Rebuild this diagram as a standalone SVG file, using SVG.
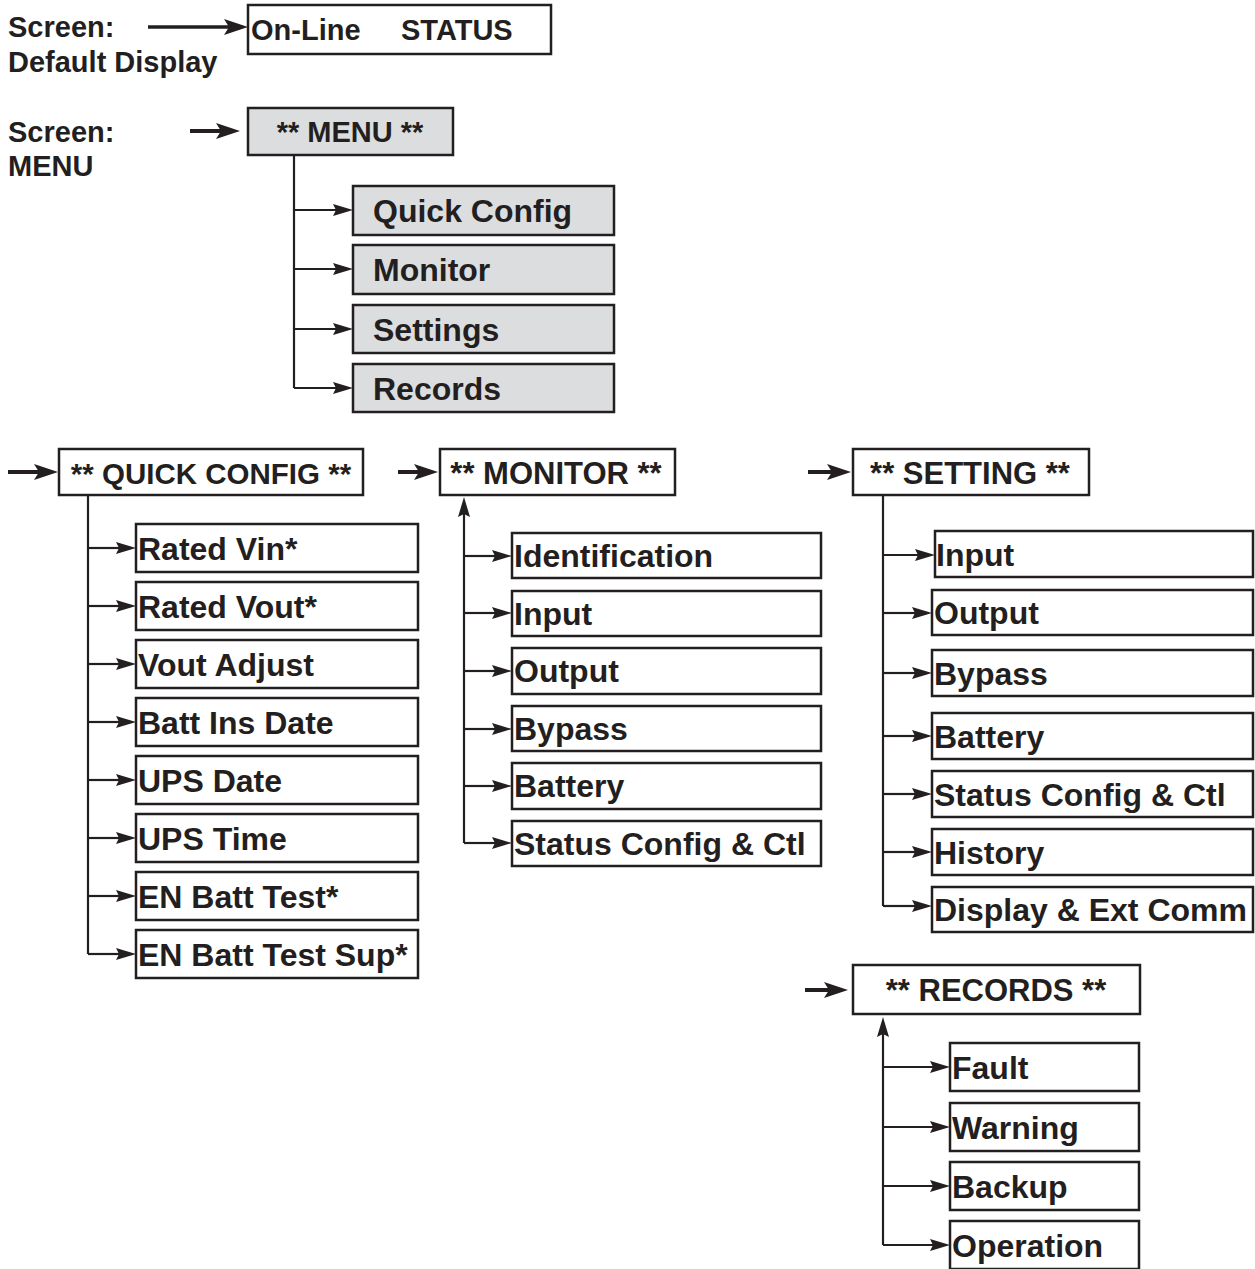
<svg xmlns="http://www.w3.org/2000/svg" width="1255" height="1269" viewBox="0 0 1255 1269">
<style>
text{font-family:"Liberation Sans",Arial,Helvetica,sans-serif;font-weight:bold;fill:#231f20}
.lbl{font-size:29px}
.hd{font-size:31px}
.it{font-size:32px}
.box{fill:#fff;stroke:#231f20;stroke-width:2.5}
.gbox{fill:#dcdddf;stroke:#231f20;stroke-width:2.5}
.ln{fill:none;stroke:#231f20;stroke-width:2.2}
.thick{fill:none;stroke:#231f20;stroke-width:4}
</style>
<defs>
<marker id="sm" markerUnits="userSpaceOnUse" markerWidth="20" markerHeight="12" refX="3" refY="6" orient="auto" overflow="visible">
<path d="M0,0 L20,6 L0,12 L3,6 Z" fill="#231f20"/>
</marker>
<marker id="big" markerUnits="userSpaceOnUse" markerWidth="24" markerHeight="16" refX="5" refY="8" orient="auto" overflow="visible">
<path d="M0,0 L24,8 L0,16 L5,8 Z" fill="#231f20"/>
</marker>
</defs>

<g id="labels">
<text class="lbl" x="8" y="37">Screen:</text>
<text class="lbl" x="8" y="72">Default Display</text>
<text class="lbl" x="8" y="142">Screen:</text>
<text class="lbl" x="8" y="176">MENU</text>
</g>

<g id="connectors">
<line x1="148" y1="27" x2="229" y2="27" stroke="#231f20" stroke-width="3.5" marker-end="url(#big)"/>
<line class="thick" x1="190" y1="131" x2="221" y2="131" marker-end="url(#big)"/>
<line class="thick" x1="8" y1="472" x2="39" y2="472" marker-end="url(#big)"/>
<line class="thick" x1="398" y1="472" x2="419" y2="472" marker-end="url(#big)"/>
<line class="thick" x1="808" y1="472" x2="832" y2="472" marker-end="url(#big)"/>
<line class="thick" x1="805" y1="990" x2="829" y2="990" marker-end="url(#big)"/>

<path class="ln" d="M294,155 V388"/>
<line class="ln" x1="294" y1="210" x2="336" y2="210" marker-end="url(#sm)"/>
<line class="ln" x1="294" y1="269" x2="336" y2="269" marker-end="url(#sm)"/>
<line class="ln" x1="294" y1="329" x2="336" y2="329" marker-end="url(#sm)"/>
<line class="ln" x1="294" y1="388" x2="336" y2="388" marker-end="url(#sm)"/>

<path class="ln" d="M88,495 V954"/>
<line class="ln" x1="88" y1="548" x2="119" y2="548" marker-end="url(#sm)"/>
<line class="ln" x1="88" y1="606" x2="119" y2="606" marker-end="url(#sm)"/>
<line class="ln" x1="88" y1="664" x2="119" y2="664" marker-end="url(#sm)"/>
<line class="ln" x1="88" y1="722" x2="119" y2="722" marker-end="url(#sm)"/>
<line class="ln" x1="88" y1="780" x2="119" y2="780" marker-end="url(#sm)"/>
<line class="ln" x1="88" y1="838" x2="119" y2="838" marker-end="url(#sm)"/>
<line class="ln" x1="88" y1="896" x2="119" y2="896" marker-end="url(#sm)"/>
<line class="ln" x1="88" y1="954" x2="119" y2="954" marker-end="url(#sm)"/>

<line class="ln" x1="464" y1="843" x2="464" y2="514" marker-end="url(#sm)"/>
<line class="ln" x1="464" y1="556" x2="495" y2="556" marker-end="url(#sm)"/>
<line class="ln" x1="464" y1="613" x2="495" y2="613" marker-end="url(#sm)"/>
<line class="ln" x1="464" y1="671" x2="495" y2="671" marker-end="url(#sm)"/>
<line class="ln" x1="464" y1="729" x2="495" y2="729" marker-end="url(#sm)"/>
<line class="ln" x1="464" y1="786" x2="495" y2="786" marker-end="url(#sm)"/>
<line class="ln" x1="464" y1="843" x2="495" y2="843" marker-end="url(#sm)"/>

<path class="ln" d="M883,495 V906"/>
<line class="ln" x1="883" y1="555" x2="918" y2="555" marker-end="url(#sm)"/>
<line class="ln" x1="883" y1="613" x2="915" y2="613" marker-end="url(#sm)"/>
<line class="ln" x1="883" y1="673" x2="915" y2="673" marker-end="url(#sm)"/>
<line class="ln" x1="883" y1="736" x2="915" y2="736" marker-end="url(#sm)"/>
<line class="ln" x1="883" y1="794" x2="915" y2="794" marker-end="url(#sm)"/>
<line class="ln" x1="883" y1="852" x2="915" y2="852" marker-end="url(#sm)"/>
<line class="ln" x1="883" y1="906" x2="915" y2="906" marker-end="url(#sm)"/>

<line class="ln" x1="883" y1="1245" x2="883" y2="1034" marker-end="url(#sm)"/>
<line class="ln" x1="883" y1="1067" x2="933" y2="1067" marker-end="url(#sm)"/>
<line class="ln" x1="883" y1="1127" x2="933" y2="1127" marker-end="url(#sm)"/>
<line class="ln" x1="883" y1="1186" x2="933" y2="1186" marker-end="url(#sm)"/>
<line class="ln" x1="883" y1="1245" x2="933" y2="1245" marker-end="url(#sm)"/>
</g>

<g id="node-status"><rect class="box" x="248" y="5" width="303" height="49"/><text class="lbl" x="251" y="40">On-Line</text><text class="lbl" x="401" y="40">STATUS</text></g>
<g id="node-menu"><rect class="gbox" x="248" y="108" width="205" height="47"/><text class="lbl" x="350" y="142" text-anchor="middle">** MENU **</text></g>

<g id="node-m-quick"><rect class="gbox" x="353" y="186" width="261" height="49"/><text class="it" x="373" y="222">Quick Config</text></g>
<g id="node-m-monitor"><rect class="gbox" x="353" y="245" width="261" height="49"/><text class="it" x="373" y="281">Monitor</text></g>
<g id="node-m-settings"><rect class="gbox" x="353" y="305" width="261" height="48"/><text class="it" x="373" y="341">Settings</text></g>
<g id="node-m-records"><rect class="gbox" x="353" y="364" width="261" height="48"/><text class="it" x="373" y="400">Records</text></g>

<g id="node-quickconfig"><rect class="box" x="59" y="449" width="304" height="46"/><text class="hd" x="211" y="484" text-anchor="middle" style="font-size:29.5px">** QUICK CONFIG **</text></g>
<g id="node-monitor"><rect class="box" x="440" y="449" width="235" height="46"/><text class="hd" x="556" y="484" text-anchor="middle">** MONITOR **</text></g>
<g id="node-setting"><rect class="box" x="853" y="449" width="236" height="46"/><text class="hd" x="970" y="484" text-anchor="middle">** SETTING **</text></g>
<g id="node-records"><rect class="box" x="853" y="965" width="287" height="49"/><text class="hd" x="996" y="1001" text-anchor="middle">** RECORDS **</text></g>

<g id="node-q1"><rect class="box" x="136" y="524" width="282" height="48"/><text class="it" x="138" y="560">Rated Vin*</text></g>
<g id="node-q2"><rect class="box" x="136" y="582" width="282" height="48"/><text class="it" x="138" y="618">Rated Vout*</text></g>
<g id="node-q3"><rect class="box" x="136" y="640" width="282" height="48"/><text class="it" x="138" y="676">Vout Adjust</text></g>
<g id="node-q4"><rect class="box" x="136" y="698" width="282" height="48"/><text class="it" x="138" y="734">Batt Ins Date</text></g>
<g id="node-q5"><rect class="box" x="136" y="756" width="282" height="48"/><text class="it" x="138" y="792">UPS Date</text></g>
<g id="node-q6"><rect class="box" x="136" y="814" width="282" height="48"/><text class="it" x="138" y="850">UPS Time</text></g>
<g id="node-q7"><rect class="box" x="136" y="872" width="282" height="48"/><text class="it" x="138" y="908">EN Batt Test*</text></g>
<g id="node-q8"><rect class="box" x="136" y="930" width="282" height="48"/><text class="it" x="138" y="966">EN Batt Test Sup*</text></g>

<g id="node-mo1"><rect class="box" x="512" y="533" width="309" height="45"/><text class="it" x="514" y="567">Identification</text></g>
<g id="node-mo2"><rect class="box" x="512" y="591" width="309" height="45"/><text class="it" x="514" y="625">Input</text></g>
<g id="node-mo3"><rect class="box" x="512" y="648" width="309" height="46"/><text class="it" x="514" y="682">Output</text></g>
<g id="node-mo4"><rect class="box" x="512" y="706" width="309" height="45"/><text class="it" x="514" y="740">Bypass</text></g>
<g id="node-mo5"><rect class="box" x="512" y="763" width="309" height="46"/><text class="it" x="514" y="797">Battery</text></g>
<g id="node-mo6"><rect class="box" x="512" y="821" width="309" height="45"/><text class="it" x="514" y="855">Status Config &amp; Ctl</text></g>

<g id="node-s1"><rect class="box" x="935" y="531" width="318" height="46"/><text class="it" x="936" y="566">Input</text></g>
<g id="node-s2"><rect class="box" x="932" y="590" width="321" height="45"/><text class="it" x="934" y="624">Output</text></g>
<g id="node-s3"><rect class="box" x="932" y="650" width="321" height="46"/><text class="it" x="934" y="685">Bypass</text></g>
<g id="node-s4"><rect class="box" x="932" y="713" width="321" height="46"/><text class="it" x="934" y="748">Battery</text></g>
<g id="node-s5"><rect class="box" x="932" y="771" width="321" height="46"/><text class="it" x="934" y="806">Status Config &amp; Ctl</text></g>
<g id="node-s6"><rect class="box" x="932" y="829" width="321" height="46"/><text class="it" x="934" y="864">History</text></g>
<g id="node-s7"><rect class="box" x="932" y="887" width="321" height="45"/><text class="it" x="934" y="921">Display &amp; Ext Comm</text></g>

<g id="node-r1"><rect class="box" x="950" y="1043" width="189" height="48"/><text class="it" x="952" y="1079">Fault</text></g>
<g id="node-r2"><rect class="box" x="950" y="1103" width="189" height="48"/><text class="it" x="952" y="1139">Warning</text></g>
<g id="node-r3"><rect class="box" x="950" y="1162" width="189" height="48"/><text class="it" x="952" y="1198">Backup</text></g>
<g id="node-r4"><rect class="box" x="950" y="1221" width="189" height="48"/><text class="it" x="952" y="1257">Operation</text></g>
</svg>
